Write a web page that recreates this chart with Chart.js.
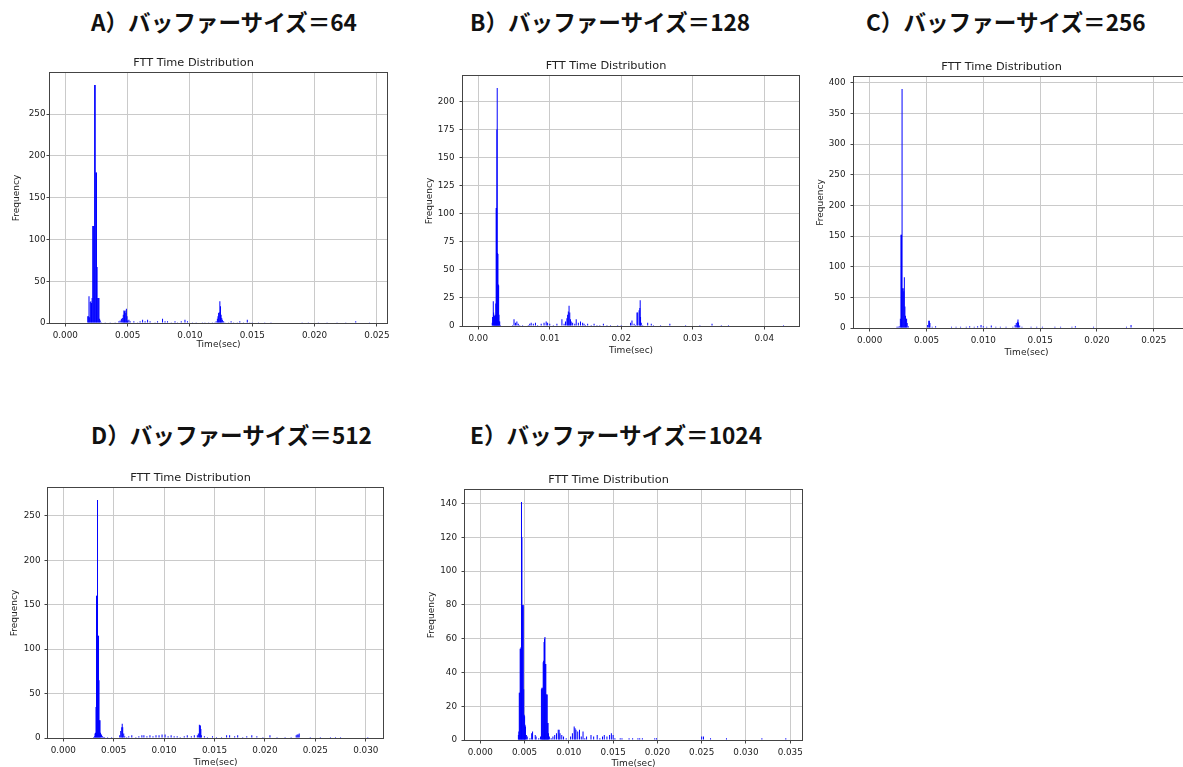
<!DOCTYPE html>
<html><head><meta charset="utf-8">
<script src="https://cdn.jsdelivr.net/npm/chart.js@4.4.1/dist/chart.umd.min.js"></script>
<style>
html,body{margin:0;padding:0;background:#fff;}
body{width:1183px;height:767px;overflow:hidden;position:relative;}
.h{position:absolute;font-family:"Noto Sans CJK JP",sans-serif;font-weight:700;font-size:22.6px;line-height:22px;color:#111;white-space:nowrap;}
canvas{position:absolute;}
</style></head><body>
<div class="h" style="left:91px;top:11px">A）バッファーサイズ＝64</div>
<div class="h" style="left:470px;top:11px">B）バッファーサイズ＝128</div>
<div class="h" style="left:866px;top:11px">C）バッファーサイズ＝256</div>
<div class="h" style="left:91px;top:424px">D）バッファーサイズ＝512</div>
<div class="h" style="left:470px;top:424px">E）バッファーサイズ＝1024</div>
<canvas id="cA"></canvas><canvas id="cB"></canvas><canvas id="cC"></canvas><canvas id="cD"></canvas><canvas id="cE"></canvas>
<script>
// ---- data: [time (sec), frequency] per histogram bin ----
const binsA = [[0.0018,8],[0.00185,8],[0.0019,32],[0.00195,7],[0.002,25],[0.00205,26],[0.0021,24],[0.00215,30],[0.0022,116],[0.00225,116],[0.0023,116],[0.00235,285],[0.0024,285],[0.00245,180],[0.0025,180],[0.00255,67],[0.0026,30],[0.00265,30],[0.0027,30],[0.00275,5],[0.0028,3],[0.0029,1],
[0.0032,1],[0.0036,1],[0.004,1],[0.0043,2],[0.0044,3],[0.0045,5],[0.0046,6],[0.00465,10],[0.0047,15],[0.00475,14],[0.0048,15],[0.00485,12],[0.0049,17],[0.00495,8],[0.005,3],[0.0051,4],[0.0052,2],
[0.0055,2],[0.0058,1],[0.006,2],[0.0062,4],[0.0064,2],[0.0066,4],[0.0068,2],[0.0072,1],[0.0074,2],[0.0078,5],[0.008,2],[0.0082,2],[0.0085,1],[0.0088,2],[0.009,1],[0.0093,2],[0.0096,4],[0.0098,2],[0.0102,1],[0.0105,1],[0.011,1],[0.0112,1],[0.0115,1],[0.0118,1],
[0.012,1],[0.0121,2],[0.0122,5],[0.01225,8],[0.0123,12],[0.01235,13],[0.0124,26],[0.01245,20],[0.0125,10],[0.01255,6],[0.0126,4],[0.0127,2],[0.0128,1],
[0.0131,1],[0.0133,2],[0.0135,1],[0.0138,1],[0.014,2],[0.0143,1],[0.0146,4],[0.0148,1],[0.015,1],[0.0155,1],[0.016,1],[0.0165,1],[0.019,1],[0.0195,1],[0.0203,1],[0.021,1],[0.0218,1],[0.0225,1],[0.0233,2],[0.0244,1]];
const binsB = [[0.00195,3],[0.002,8],[0.0021,22],[0.00215,12],[0.0022,10],[0.00225,9],[0.0023,8],[0.00235,9],[0.0024,10],[0.00245,20],[0.0025,105],[0.00255,105],[0.0026,175],[0.00265,212],[0.0027,65],[0.00275,64],[0.0028,37],[0.00285,36],[0.0029,10],[0.00295,4],[0.003,4],[0.0031,1],
[0.0048,1],[0.005,6],[0.0052,3],[0.0054,4],[0.0056,2],[0.0058,1],[0.0062,1],[0.007,1],[0.0072,2],[0.0074,3],[0.0077,2],[0.008,3],[0.0083,1],[0.0088,2],[0.0092,3],[0.0095,4],[0.0097,3],[0.01,2],[0.0105,1],[0.011,2],
[0.0117,6],[0.012,2],[0.0122,4],[0.0124,7],[0.0125,10],[0.0126,13],[0.0127,18],[0.0128,12],[0.0129,6],[0.013,4],[0.0132,3],[0.0135,2],[0.0137,6],[0.014,3],[0.0143,4],[0.0146,3],[0.0148,2],[0.015,1],
[0.0153,2],[0.0158,1],[0.0162,2],[0.0166,1],[0.017,1],[0.0175,2],[0.018,1],[0.0185,1],[0.0195,1],[0.02,1],
[0.0213,3],[0.0215,5],[0.0218,2],[0.022,1],[0.0222,12],[0.0223,12],[0.0225,14],[0.0226,16],[0.02265,23],[0.0227,8],[0.0228,3],[0.023,1],
[0.0237,3],[0.0242,2],[0.0245,1],[0.0255,1],[0.0268,2],[0.029,1],[0.031,1],[0.0327,2],[0.034,1],[0.035,1],[0.0427,1]];
const binsC = [[0.0023,1],[0.0024,2],[0.0025,2],[0.0026,3],[0.0027,15],[0.00275,152],[0.0028,152],[0.00285,390],[0.0029,65],[0.00295,65],[0.003,60],[0.00305,83],[0.0031,35],[0.00315,20],[0.0032,15],[0.00325,15],[0.0033,8],[0.0034,3],
[0.0036,1],[0.0038,1],[0.004,1],[0.0043,1],[0.0045,1],[0.0048,1],
[0.0051,5],[0.0052,12],[0.00525,12],[0.0053,8],[0.0055,2],[0.0058,3],
[0.0062,1],[0.0068,1],[0.0072,2],[0.0076,2],[0.008,2],[0.0085,2],[0.0088,3],[0.0092,2],[0.0095,3],[0.0098,5],[0.01,3],[0.0103,2],[0.0107,4],[0.0111,2],[0.0115,2],[0.012,2],
[0.0126,2],[0.0128,5],[0.0129,8],[0.013,10],[0.01305,14],[0.0131,9],[0.0132,4],[0.0134,2],
[0.0138,1],[0.0142,2],[0.0147,2],[0.0152,2],[0.0158,1],[0.0163,2],[0.0168,2],[0.0173,1],[0.0178,2],[0.0181,3],[0.0186,1],[0.0192,1],[0.0197,2],[0.0202,1],[0.021,1],[0.0218,1],[0.0226,2],[0.023,5],[0.0235,1],[0.0242,1],[0.026,1],[0.0265,1],[0.0276,1]];
const binsD = [[0.003,1],[0.0031,2],[0.00315,5],[0.0032,6],[0.00325,35],[0.0033,160],[0.00335,160],[0.0034,268],[0.00345,115],[0.0035,115],[0.00355,65],[0.0036,20],[0.00365,20],[0.0037,6],[0.0038,4],[0.0039,2],[0.004,1],[0.0041,1],
[0.0044,1],[0.0048,1],
[0.0056,3],[0.0057,8],[0.0058,12],[0.00585,16],[0.0059,12],[0.006,5],[0.0061,2],[0.0063,1],
[0.0065,2],[0.0068,3],[0.0072,1],[0.0075,2],[0.0078,3],[0.008,3],[0.0083,2],[0.0086,3],[0.0089,2],[0.0092,3],[0.0095,3],[0.0098,4],[0.0101,4],[0.0104,2],[0.0107,3],[0.011,2],[0.0113,2],[0.0116,1],[0.012,2],[0.0123,3],[0.0127,2],[0.013,3],
[0.0133,3],[0.0134,5],[0.0135,15],[0.01355,14],[0.0136,14],[0.01365,10],[0.0137,3],
[0.014,2],[0.0143,1],[0.0148,2],[0.0152,1],[0.0157,1],[0.0162,3],[0.0165,3],[0.017,2],[0.0173,3],[0.0178,1],[0.0182,2],[0.0187,3],[0.0192,2],[0.0198,1],[0.0205,3],[0.0212,1],[0.022,1],[0.0226,1],
[0.0231,3],[0.0232,4],[0.0233,4],[0.0234,5],
[0.0245,1],[0.0255,1],[0.0265,1],[0.027,1],[0.0275,1],[0.0302,1]];
const binsE = [[0.0043,3],[0.00435,5],[0.0044,28],[0.00445,28],[0.0045,54],[0.00455,54],[0.0046,55],[0.00465,141],[0.0047,120],[0.00475,80],[0.0048,79],[0.00485,80],[0.0049,30],[0.00495,15],[0.005,14],[0.00505,9],[0.0051,8],[0.0052,3],[0.0053,2],
[0.0056,1],[0.0058,4],[0.0059,5],[0.0062,3],[0.0063,2],[0.0066,1],
[0.0068,2],[0.0069,30],[0.00695,31],[0.007,30],[0.00705,31],[0.0071,46],[0.00715,47],[0.0072,58],[0.00725,60],[0.0073,61],[0.00735,45],[0.0074,45],[0.00745,27],[0.0075,27],[0.00755,27],[0.0076,10],[0.00765,10],[0.0077,4],[0.0078,2],
[0.008,1],[0.0082,2],[0.0084,3],[0.0086,4],[0.0088,6],[0.0089,6],[0.009,4],[0.0092,3],[0.0094,2],[0.0097,1],
[0.0102,2],[0.0104,4],[0.0106,8],[0.0107,7],[0.0108,6],[0.011,5],[0.0112,6],[0.0114,2],[0.0116,5],[0.0118,1],
[0.012,2],[0.0125,3],[0.0128,2],[0.0132,3],[0.0135,1],[0.0138,2],[0.014,3],[0.0143,2],[0.0146,3],[0.0148,4],[0.015,3],[0.0152,1],[0.0158,1],[0.016,1],[0.0168,1],[0.0172,1],[0.0178,1],[0.018,1],[0.0183,1],[0.0197,1],[0.0199,1],[0.025,2],[0.0252,2],[0.026,1],[0.0278,1],[0.0318,1],[0.0345,1]];

// histogram range (0 .. max time) -> matplotlib-style 5% margins
const extentA = 0.02458, extentB = 0.04273, extentC = 0.0276, extentD = 0.0302, extentE = 0.0346;

// tick labels
const xTicksA = [0, 0.005, 0.010, 0.015, 0.020, 0.025];
const xTicksB = [0, 0.01, 0.02, 0.03, 0.04];
const xTicksC = [0, 0.005, 0.010, 0.015, 0.020, 0.025];
const xTicksD = [0, 0.005, 0.010, 0.015, 0.020, 0.025, 0.030];
const xTicksE = [0, 0.005, 0.010, 0.015, 0.020, 0.025, 0.030, 0.035];
const yTicksA = [0, 50, 100, 150, 200, 250];
const yTicksB = [0, 25, 50, 75, 100, 125, 150, 175, 200];
const yTicksC = [0, 50, 100, 150, 200, 250, 300, 350, 400];
const yTicksD = [0, 50, 100, 150, 200, 250];
const yTicksE = [0, 20, 40, 60, 80, 100, 120, 140];

// ---- layout (page px of plot box) ----
const YW = 50, TH = 24, XH = 40, RP = 20;
const panels = [
  {id:'cA', bins:binsA, ext:extentA, xt:xTicksA, yt:yTicksA, dec:3, L:50, T:73, R:387, B:323, xg:22, yp:1},
  {id:'cB', bins:binsB, ext:extentB, xt:xTicksB, yt:yTicksB, dec:2, L:463, T:76, R:799, B:326, xg:24.5, yp:5},
  {id:'cC', bins:binsC, ext:extentC, xt:xTicksC, yt:yTicksC, dec:3, L:854, T:77, R:1199, B:328, xg:24.5, yp:5},
  {id:'cD', bins:binsD, ext:extentD, xt:xTicksD, yt:yTicksD, dec:3, L:48, T:488, R:383, B:738, xg:25, yp:4},
  {id:'cE', bins:binsE, ext:extentE, xt:xTicksE, yt:yTicksE, dec:3, L:465, T:490, R:802, B:740, xg:24, yp:4.5},
];

const FONT = 'DejaVu Sans';
const TXT = '#222';
const spines = {
  id: 'spines',
  afterDraw(chart) {
    const {ctx, chartArea: a} = chart;
    ctx.save();
    ctx.strokeStyle = '#444';
    ctx.lineWidth = 1;
    ctx.strokeRect(Math.round(a.left) - 0.5, Math.round(a.top) - 0.5, Math.round(a.right - a.left) + 1, Math.round(a.bottom - a.top) + 1);
    ctx.restore();
  }
};

panels.forEach(p => {
  const cv = document.getElementById(p.id);
  const w = p.R - p.L + YW + RP, h = p.B - p.T + TH + XH;
  cv.width = w; cv.height = h;
  cv.style.left = (p.L - YW) + 'px';
  cv.style.top = (p.T - TH) + 'px';
  cv.style.width = w + 'px'; cv.style.height = h + 'px';
  const ymax = Math.max(...p.bins.map(b => b[1])) * 1.05;
  new Chart(cv, {
    type: 'bar',
    data: {
      datasets: [{
        data: p.bins.map(b => ({x: b[0], y: b[1]})),
        backgroundColor: 'rgb(0,0,255)',
        borderWidth: 0,
        barThickness: 1,
        inflateAmount: 0
      }]
    },
    plugins: [spines],
    options: {
      responsive: false,
      animation: false,
      events: [],
      layout: {padding: {left: 0, top: 0, right: RP, bottom: 0}},
      plugins: {
        legend: {display: false},
        tooltip: {enabled: false},
        title: {
          display: true, text: 'FTT Time Distribution', color: TXT,
          font: {family: FONT, size: 11.3, weight: 'normal', lineHeight: 1.2},
          padding: {top: 7.2, bottom: TH - 7.2 - 11.3 * 1.2}
        }
      },
      scales: {
        x: {
          type: 'linear',
          min: -0.05 * p.ext, max: 1.05 * p.ext,
          offset: false,
          afterBuildTicks: s => { s.ticks = p.xt.map(v => ({value: v})); },
          afterFit: s => { s.height = XH; s.paddingLeft = 0; s.paddingRight = 0; },
          grid: {offset: false, color: '#cacaca', lineWidth: 1, drawTicks: true, tickLength: 3.5, tickColor: '#444'},
          border: {display: false},
          ticks: {autoSkip: false, maxRotation: 0, minRotation: 0, padding: 4, color: TXT,
                  font: {family: FONT, size: 8.8}, callback: v => Number(v).toFixed(p.dec)},
          title: {display: true, text: 'Time(sec)', color: TXT, font: {family: FONT, size: 9},
                  padding: {top: 0, bottom: XH - p.xg - 5.4}}
        },
        y: {
          type: 'linear',
          min: 0, max: ymax,
          afterBuildTicks: s => { s.ticks = p.yt.map(v => ({value: v})); },
          afterFit: s => { s.width = YW; s.paddingTop = 0; s.paddingBottom = 0; },
          grid: {color: '#cacaca', lineWidth: 1, drawTicks: true, tickLength: 3.5, tickColor: '#444'},
          border: {display: false},
          ticks: {autoSkip: false, padding: p.yp, color: TXT, font: {family: FONT, size: 8.8},
                  callback: v => String(v)},
          title: {display: true, text: 'Frequency', color: TXT, font: {family: FONT, size: 9},
                  padding: {top: 11.6, bottom: 0}}
        }
      }
    }
  });
});
</script>
</body></html>
